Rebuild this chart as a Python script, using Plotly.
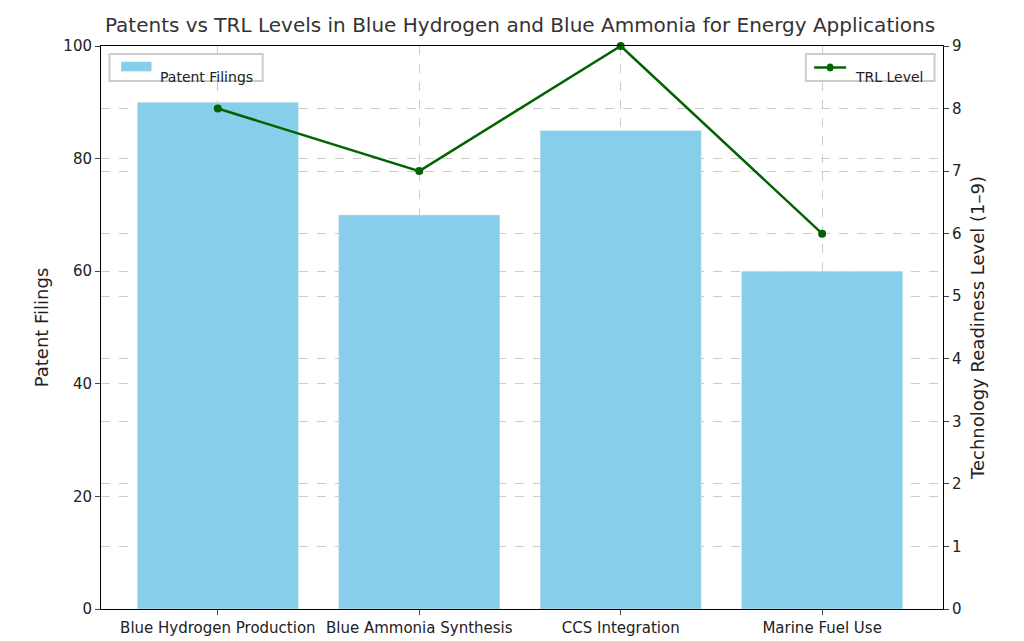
import plotly.graph_objects as go

categories = ["Blue Hydrogen Production", "Blue Ammonia Synthesis", "CCS Integration", "Marine Fuel Use"]
patents = [90, 70, 85, 60]
trl = [8, 7, 9, 6]

fig = go.Figure()
fig.add_trace(go.Bar(x=list(range(4)), y=patents, name="Patent Filings",
                     marker=dict(color="#87CEEB"), width=0.8, yaxis="y"))
fig.add_trace(go.Scatter(x=list(range(4)), y=trl, name="TRL Level", mode="lines+markers",
                         line=dict(color="#006400", width=2.5), marker=dict(size=8, color="#006400"),
                         yaxis="y2", cliponaxis=False))

grid = dict(showgrid=True, gridcolor="#cccccc", griddash="dash", gridwidth=0.8)
fig.update_layout(
    width=1024, height=641, plot_bgcolor="white", paper_bgcolor="white",
    font=dict(family="DejaVu Sans", size=15, color="#222"),
    title=dict(text="Patents vs TRL Levels in Blue Hydrogen and Blue Ammonia for Energy Applications",
               x=0.5, y=0.985, font=dict(size=20, color="#333")),
    margin=dict(l=93, r=89, t=38, b=35),
    showlegend=False,
    xaxis=dict(tickvals=list(range(4)), ticktext=categories, range=[-0.58, 3.6],
               showline=True, linecolor="black", ticks="outside", mirror=True, **grid),
    yaxis=dict(title=dict(text="Patent Filings", standoff=10), range=[0, 100], dtick=20,
               showline=True, linecolor="black", ticks="outside", zeroline=False, **grid),
    yaxis2=dict(title=dict(text="Technology Readiness Level (1–9)", standoff=10), range=[0, 9], dtick=1,
                overlaying="y", side="right", showline=True, linecolor="black", ticks="outside",
                zeroline=False, **grid),
)
# Legends as boxed annotations
fig.add_shape(type="rect", xref="paper", yref="paper", x0=0.01, x1=0.192, y0=0.938, y1=0.986,
              line=dict(color="#ccc"), fillcolor="white")
fig.add_shape(type="rect", xref="paper", yref="paper", x0=0.024, x1=0.06, y0=0.955, y1=0.972,
              line=dict(width=0), fillcolor="#87CEEB")
fig.add_annotation(xref="paper", yref="paper", x=0.068, y=0.962, text="Patent Filings",
                   showarrow=False, xanchor="left", font=dict(size=14))
fig.add_shape(type="rect", xref="paper", yref="paper", x0=0.837, x1=0.99, y0=0.938, y1=0.986,
              line=dict(color="#ccc"), fillcolor="white")
fig.add_shape(type="line", xref="paper", yref="paper", x0=0.847, x1=0.885, y0=0.962, y1=0.962,
              line=dict(color="#006400", width=2.5))
fig.add_shape(type="circle", xref="paper", yref="paper", x0=0.862, x1=0.87, y0=0.955, y1=0.969,
              line=dict(width=0), fillcolor="#006400")
fig.add_annotation(xref="paper", yref="paper", x=0.893, y=0.962, text="TRL Level",
                   showarrow=False, xanchor="left", font=dict(size=14))

fig.write_html("out.html")
